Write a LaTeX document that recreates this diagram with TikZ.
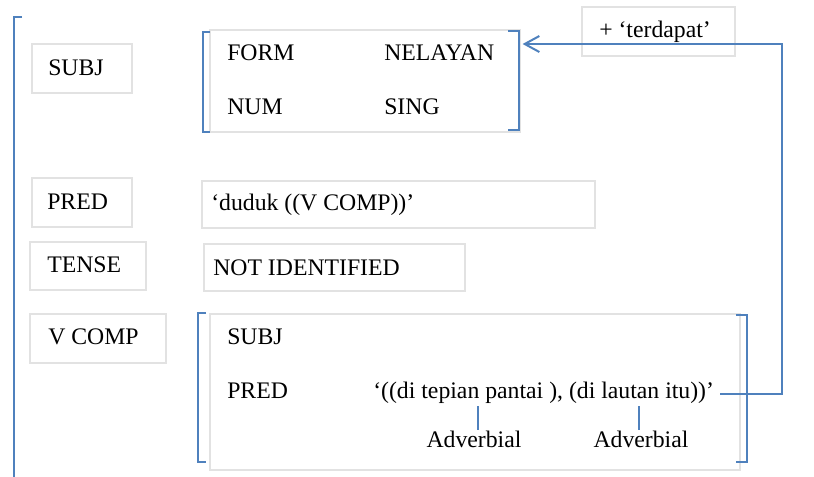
\documentclass[tikz,border=0pt]{standalone}
\usepackage{fontspec}
\setmainfont{Liberation Serif}
\usetikzlibrary{arrows.meta,fit}
\definecolor{fsblue}{RGB}{79,129,189}
\definecolor{boxgray}{RGB}{226,226,226}
\tikzset{
  graybox/.style={draw=boxgray, line width=0.9pt, inner sep=0pt},
  lbl/.style={anchor=base west, inner sep=0pt, font=\fontsize{17.8}{20}\selectfont},
  clbl/.style={anchor=base, inner sep=0pt, font=\fontsize{17.8}{20}\selectfont},
  bracket/.style={draw=fsblue, line width=1.5pt},
  link/.style={draw=fsblue, line width=1.5pt},
  tickline/.style={draw=fsblue, line width=1.1pt},
}
\begin{document}
\begin{tikzpicture}[x=0.75pt,y=-0.75pt]
\useasboundingbox (0,0) rectangle (814,476);

% outer f-structure bracket
\draw[bracket] (22,17) -- (14,17) -- (14,480);

% attribute boxes
\node[graybox, fit={(32,44) (132,93)}] (subjA) {};
\node[graybox, fit={(32,178) (132,227)}] (predA) {};
\node[graybox, fit={(30,242) (146,290)}] (tenseA) {};
\node[graybox, fit={(30,314) (166,363)}] (vcompA) {};
\node[lbl] (subjT) at (48,75) {SUBJ};
\node[lbl] (predT) at (47,209) {PRED};
\node[lbl] (tenseT) at (47,272) {TENSE};
\node[lbl] (vcompT) at (48,344) {V COMP};

% subject f-structure
\node[graybox, fit={(210,30) (520,132)}] (subjfs) {};
\draw[bracket] (210,32) -- (203,32) -- (203,132) -- (210,132);
\draw[bracket] (508,31) -- (519,31) -- (519,130) -- (508,130);
\node[lbl] (formT) at (227,60) {FORM};
\node[lbl] (numT) at (227,114) {NUM};
\node[lbl] (formV) at (384,60) {NELAYAN};
\node[lbl] (numV) at (384,114) {SING};

% added predicate
\node[graybox, fit={(582,7) (735,56)}] (addbox) {};
\node[lbl] (addT) at (599,37) {+ ‘terdapat’};

% pred and tense values
\node[graybox, fit={(202,181) (595,228)}] (predV) {};
\node[lbl] (predVT) at (211,210) {‘duduk ((V COMP))’};
\node[graybox, fit={(204,244) (465,291)}] (tenseV) {};
\node[lbl] (tenseVT) at (213,275) {NOT IDENTIFIED};

% verb complement f-structure
\node[graybox, fit={(210,314) (740,470)}] (vcompfs) {};
\draw[bracket] (206,313) -- (198,313) -- (198,462) -- (206,462);
\draw[bracket] (736,315) -- (747,315) -- (747,462) -- (736,462);
\node[lbl] (vsubjT) at (227,344) {SUBJ};
\node[lbl] (vpredT) at (227,398) {PRED};
\node[lbl] (vpredV) at (373,398) {‘((di tepian pantai ), (di lautan itu))’};
\node[clbl] (advA) at (474,447) {Adverbial};
\node[clbl] (advB) at (641,447) {Adverbial};
\coordinate (tickA) at (478,406);
\coordinate (tickB) at (639,406);
\draw[tickline] (tickA) -- (tickA |- advA.north);
\draw[tickline] (tickB) -- (tickB |- advB.north);

% link from the adverbial predicate to the subject
\coordinate (turn) at (782,44);
\draw[link, -{Straight Barb[length=11pt,width=12pt,line width=1.5pt]}]
  ([xshift=4.5pt,yshift=3pt]vpredV.base east) -| (turn)
  -- ([xshift=1.5pt]subjfs.east |- turn);
\end{tikzpicture}
\end{document}
